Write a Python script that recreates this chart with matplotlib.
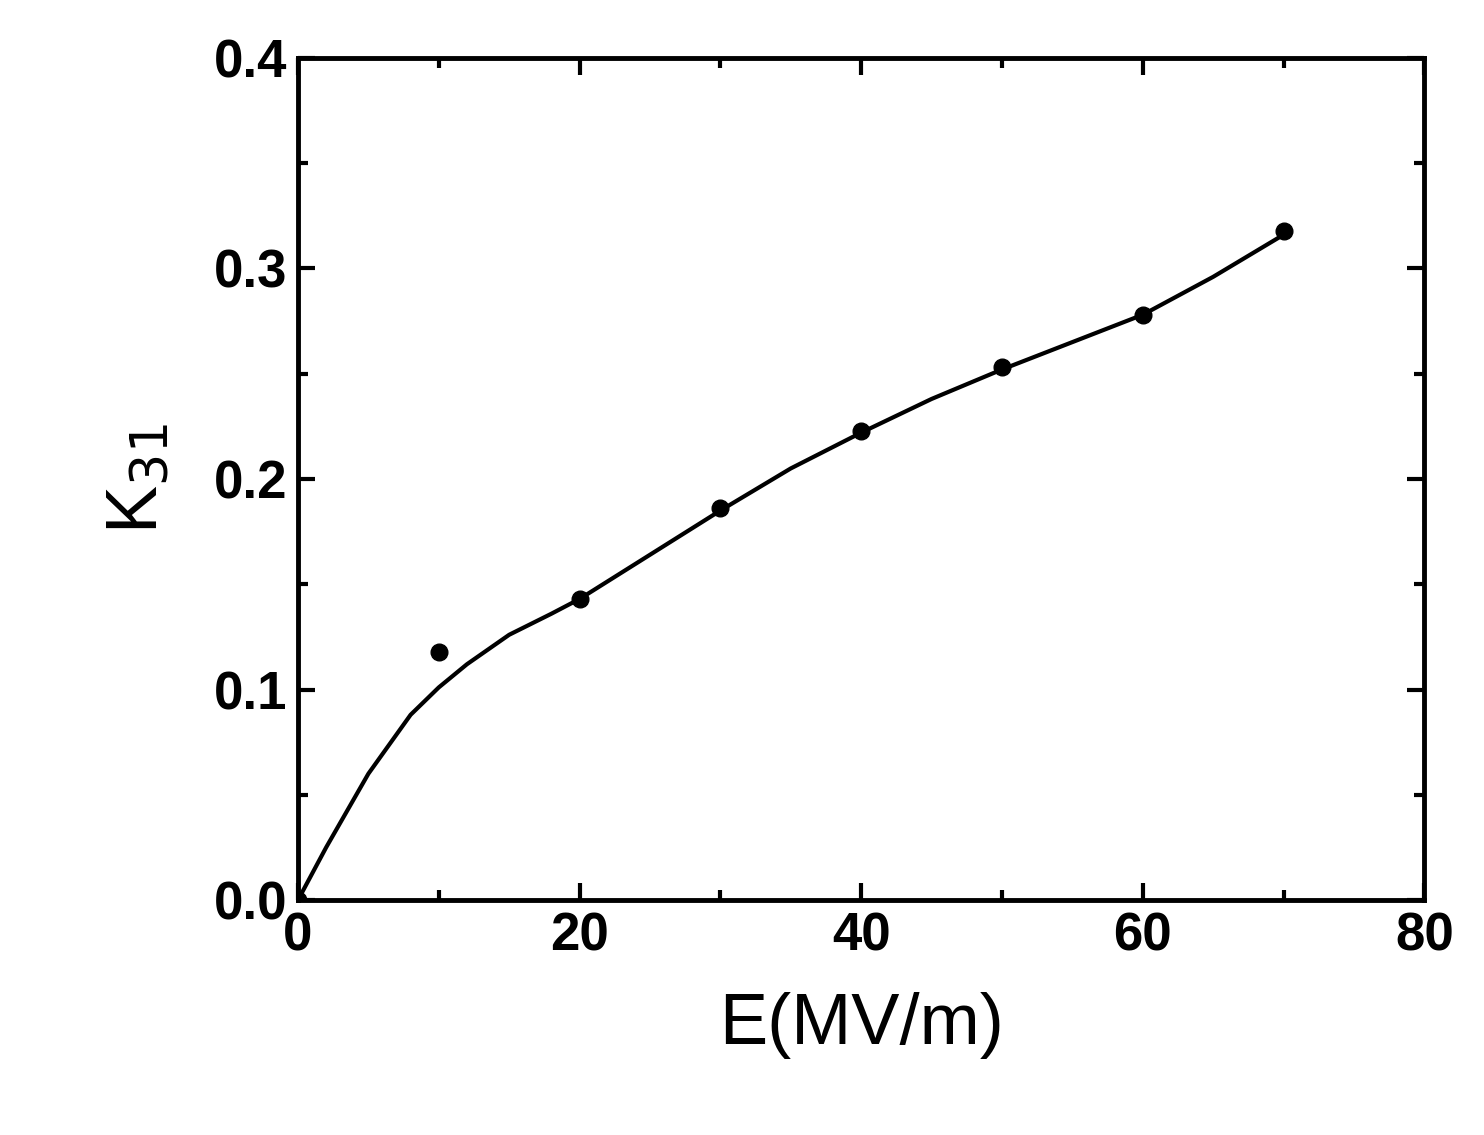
import matplotlib
matplotlib.use("Agg")
import matplotlib.pyplot as plt
from matplotlib.ticker import MultipleLocator, FormatStrFormatter

E_pts = [0, 10, 20, 30, 40, 50, 60, 70]
K_pts = [0.0, 0.118, 0.143, 0.186, 0.223, 0.253, 0.278, 0.318]
E_fit = [0, 2, 5, 8, 10, 12, 15, 18, 20, 25, 30, 35, 40, 45, 50, 55, 60, 65, 70]
K_fit = [0.0, 0.025, 0.060, 0.088, 0.101, 0.112, 0.126, 0.136, 0.143, 0.164, 0.185, 0.205, 0.222, 0.238, 0.252, 0.265, 0.278, 0.296, 0.316]

plt.rcParams['font.family'] = ['Liberation Sans', 'DejaVu Sans']
fig = plt.figure(figsize=(14.84, 11.35), dpi=100)
ax = fig.add_axes([0.2008, 0.207, 0.759, 0.742])
ax.plot(E_fit, K_fit, color='black', lw=3)
ax.plot(E_pts, K_pts, 'o', color='black', ms=12)
ax.set_xlim(0, 80)
ax.set_ylim(0, 0.4)
ax.xaxis.set_major_locator(MultipleLocator(20))
ax.xaxis.set_minor_locator(MultipleLocator(10))
ax.yaxis.set_major_locator(MultipleLocator(0.1))
ax.yaxis.set_minor_locator(MultipleLocator(0.05))
ax.yaxis.set_major_formatter(FormatStrFormatter('%.1f'))
ax.tick_params(which='both', direction='in', top=True, right=True, width=3, labelsize=38, pad=8)
ax.tick_params(which='major', length=12)
ax.tick_params(which='minor', length=7)
for lbl in ax.get_xticklabels() + ax.get_yticklabels():
    lbl.set_fontweight('bold')
for s in ax.spines.values():
    s.set_linewidth(3.5)
ax.set_xlabel('E(MV/m)', fontsize=52, labelpad=22)
ax.set_ylabel('K$_{31}$', fontsize=52, labelpad=30)
fig.savefig('out.png', dpi=100)
